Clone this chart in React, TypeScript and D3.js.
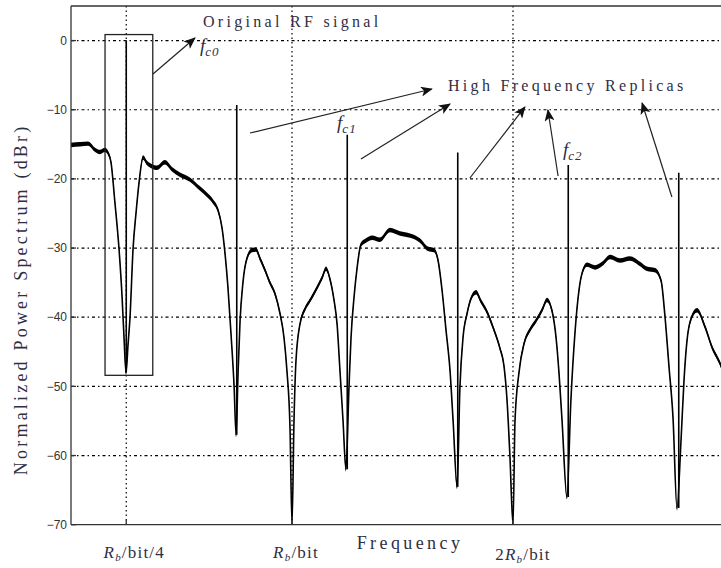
import React from "react";
import * as d3 from "d3";

// spectrum trace, frequency in units of Rb/bit, level in dBr
const freq = [
  0, 0.041, 0.077, 0.109, 0.131, 0.154, 0.167, 0.181, 0.199, 0.217, 0.231, 0.24, 0.249,
  0.258, 0.267, 0.281, 0.294, 0.308, 0.326, 0.344, 0.367, 0.389, 0.425, 0.457, 0.493, 0.538,
  0.584, 0.615, 0.643, 0.665, 0.683, 0.697, 0.71, 0.724, 0.738, 0.747,
  0.756, 0.765, 0.778, 0.796, 0.819, 0.837, 0.855, 0.878, 0.9, 0.923, 0.946, 0.964, 0.977,
  0.991, 1.0,
  1.009, 1.018, 1.036, 1.059, 1.081, 1.109, 1.136, 1.154, 1.172, 1.19, 1.204, 1.217, 1.231,
  1.244,
  1.258, 1.267, 1.281, 1.294, 1.312, 1.335, 1.362, 1.398, 1.443, 1.489, 1.534, 1.579, 1.615,
  1.643, 1.661, 1.679, 1.697, 1.715, 1.729, 1.747,
  1.76, 1.774, 1.792, 1.81, 1.833, 1.855, 1.882, 1.91, 1.941, 1.959, 1.973, 1.986, 2.0,
  2.009, 2.027, 2.05, 2.077, 2.104, 2.131, 2.154, 2.176, 2.195, 2.208, 2.222, 2.244,
  2.262, 2.281, 2.299, 2.312, 2.335, 2.371, 2.407, 2.439, 2.484, 2.529, 2.575, 2.606, 2.643,
  2.67, 2.688, 2.706, 2.724, 2.742,
  2.76, 2.774, 2.787, 2.805, 2.833, 2.869, 2.9, 2.937, 2.973,
];
const level = [
  -15.1, -15.0, -14.9, -15.8, -16.1, -15.8, -16.2, -17.6, -23.5, -30, -37, -43, -48,
  -44, -40, -30, -25, -20.5, -16.9, -17.7, -18.2, -18.4, -17.6, -18.6, -19.4, -20.1,
  -21.4, -22.3, -23.3, -24.5, -27, -30.8, -35.6, -42.4, -50, -57,
  -48, -40.5, -35, -31.5, -30.3, -30.2, -31.5, -33.2, -35, -36.6, -39.5, -43, -47.7,
  -56, -70,
  -55, -46.3, -41, -38.8, -37.6, -36, -34.3, -33, -34.5, -37.5, -41, -47.7, -55,
  -62,
  -50, -43, -37, -33, -29.5, -28.9, -28.5, -28.8, -27.4, -27.9, -28.2, -28.9, -30.1,
  -30.3, -31.8, -36.1, -41.9, -47.7, -55, -64.5,
  -50, -42.9, -39.5, -37.3, -36.4, -37.7, -39.2, -41.5, -44.5, -47, -52, -60, -70,
  -55, -48, -43.8, -41.8, -40.5, -39, -37.5, -39, -43, -48, -55, -66,
  -52, -42, -36, -33.7, -32.4, -32.8, -32.2, -31.3, -31.8, -31.5, -32.3, -33, -33.2,
  -34.7, -40, -47.2, -54.5, -67.6,
  -58, -49, -43.5, -40.3, -39, -41.4, -44.3, -46.7, -50,
];

// carrier and replica tones
const toneFreq = [0.25, 0.75, 1.25, 1.75, 2.25, 2.75];
const toneTop = [0, -9.3, -13.6, -16.2, -18.0, -19.1];
const toneBottom = [-48, -57, -62, -64.5, -66, -67.6];

const yTicks = [0, -10, -20, -30, -40, -50, -60, -70];
const xGrid = [0.25, 1, 2, 3];

// annotation arrows [f0, dB0, f1, dB1]
const arrows = [
  [0.371, -4.83, 0.561, 0.37],
  [0.81, -13.36, 1.633, -7.0],
  [1.312, -17.12, 1.715, -9.17],
  [1.805, -19.87, 2.054, -9.6],
  [2.204, -19.58, 2.158, -10.04],
  [2.719, -22.62, 2.584, -9.03],
];

const width = 721;
const height = 568;
const left = 71;
const top = 6;
const bottom = 524.7;
const right = left + 3 * 221;

const serif = "'Liberation Serif', 'DejaVu Serif', serif";
const sans = "'Liberation Sans', Arial, sans-serif";
const textColor = "#2e2e44";

export default function App() {
  const x = d3.scaleLinear().domain([0, 3]).range([left, right]);
  const y = d3.scaleLinear().domain([-70, 5]).range([bottom, top]);
  const pts = freq.map((f, i) => [f, level[i]] as [number, number]);

  const band = d3
    .area<[number, number]>()
    .x((d) => x(d[0]))
    .y0((d) => y(d[1] - 0.32))
    .y1((d) => y(d[1] + 0.32))
    .curve(d3.curveMonotoneX);
  const trace = d3
    .line<[number, number]>()
    .x((d) => x(d[0]))
    .y((d) => y(d[1]))
    .curve(d3.curveMonotoneX);

  const mathLabel = (pre: string, post: string) => (
    <>
      {pre}
      <tspan fontStyle="italic">R</tspan>
      <tspan fontStyle="italic" fontSize={11} dy={3}>b</tspan>
      <tspan dy={-3}>{post}</tspan>
    </>
  );

  const fsub = (sub: string) => (
    <>
      <tspan fontStyle="italic" fontSize={19}>f</tspan>
      <tspan fontStyle="italic" fontSize={13} dy={4} letterSpacing={1}>{sub}</tspan>
    </>
  );

  return (
    <svg
      width={width}
      height={height}
      style={{ position: "absolute", left: 0, top: 0, background: "#fff" }}
    >
      <defs>
        <marker id="head" viewBox="0 0 12 10" refX="11" refY="5" markerWidth="12" markerHeight="10" markerUnits="userSpaceOnUse" orient="auto">
          <path d="M0,0 L12,5 L0,10 L3,5 Z" fill="#111" />
        </marker>
        <clipPath id="plot">
          <rect x={left} y={top} width={right - left} height={bottom - top} />
        </clipPath>
      </defs>

      {/* grid */}
      {yTicks.slice(0, -1).map((t) => (
        <line key={t} x1={left} x2={right} y1={y(t)} y2={y(t)} stroke="#000" strokeWidth={1.2} strokeDasharray="3 3 1.5 3" />
      ))}
      {xGrid.map((t) => (
        <line key={t} x1={x(t)} x2={x(t)} y1={top} y2={bottom} stroke="#000" strokeWidth={1.2} strokeDasharray="1.5 3" />
      ))}

      {/* spectrum */}
      <g clipPath="url(#plot)">
        <path d={band(pts) ?? ""} fill="#000" />
        <path d={trace(pts) ?? ""} fill="none" stroke="#000" strokeWidth={1.6} strokeLinejoin="round" />
        {toneFreq.map((f, i) => (
          <line key={f} x1={x(f)} x2={x(f)} y1={y(toneTop[i])} y2={y(toneBottom[i])} stroke="#000" strokeWidth={1.6} />
        ))}
      </g>

      {/* axes */}
      <line x1={left} x2={width} y1={top} y2={top} stroke="#333" strokeWidth={1.3} />
      <line x1={left} x2={width} y1={bottom} y2={bottom} stroke="#333" strokeWidth={1.3} />
      <line x1={left} x2={left} y1={top} y2={bottom} stroke="#333" strokeWidth={1.3} />
      {yTicks.map((t) => (
        <g key={t}>
          <line x1={left} x2={left + 5} y1={y(t)} y2={y(t)} stroke="#333" strokeWidth={1.3} />
          <text x={left - 4} y={y(t)} dy="0.35em" textAnchor="end" fontFamily={sans} fontSize={12} fill="#333">
            {t === 0 ? "0" : "\u2212" + Math.abs(t)}
          </text>
        </g>
      ))}
      {xGrid.map((t) => (
        <line key={t} x1={x(t)} x2={x(t)} y1={bottom} y2={bottom - 5} stroke="#333" strokeWidth={1.3} />
      ))}

      {/* x tick labels */}
      <text x={x(0.25) + 8} y={558} textAnchor="middle" fontFamily={serif} fontSize={17} fill={textColor} letterSpacing={1.2}>
        {mathLabel("", "/bit/4")}
      </text>
      <text x={x(1) + 4} y={558} textAnchor="middle" fontFamily={serif} fontSize={17} fill={textColor} letterSpacing={1.2}>
        {mathLabel("", "/bit")}
      </text>
      <text x={x(2) + 10} y={560} textAnchor="middle" fontFamily={serif} fontSize={17} fill={textColor} letterSpacing={1.2}>
        {mathLabel("2", "/bit")}
      </text>

      {/* axis titles */}
      <text x={410} y={549} textAnchor="middle" fontFamily={serif} fontSize={18} fill={textColor} letterSpacing={3.4}>
        Frequency
      </text>
      <text transform={`translate(27,${(top + bottom) / 2 + 34}) rotate(-90)`} textAnchor="middle" fontFamily={serif} fontSize={18} fill={textColor} letterSpacing={3.2}>
        Normalized Power Spectrum (dBr)
      </text>

      {/* annotations */}
      <rect x={x(0.154)} y={y(0.87)} width={x(0.37) - x(0.154)} height={y(-48.4) - y(0.87)} fill="none" stroke="#222" strokeWidth={1.3} />
      {arrows.map((a, i) => (
        <line key={i} x1={x(a[0])} y1={y(a[1])} x2={x(a[2])} y2={y(a[3])} stroke="#222" strokeWidth={1.2} markerEnd="url(#head)" />
      ))}
      <text x={x(0.597)} y={y(1.96)} fontFamily={serif} fontSize={16} fill={textColor} letterSpacing={3.3}>
        Original RF signal
      </text>
      <text x={x(1.706)} y={y(-7.29)} fontFamily={serif} fontSize={16} fill={textColor} letterSpacing={3.3}>
        High Frequency Replicas
      </text>
      <text x={x(0.584)} y={y(-1.65)} fontFamily={serif} fill={textColor}>{fsub("c0")}</text>
      <text x={x(1.204)} y={y(-12.79)} fontFamily={serif} fill={textColor}>{fsub("c1")}</text>
      <text x={x(2.226)} y={y(-16.69)} fontFamily={serif} fill={textColor}>{fsub("c2")}</text>
    </svg>
  );
}
